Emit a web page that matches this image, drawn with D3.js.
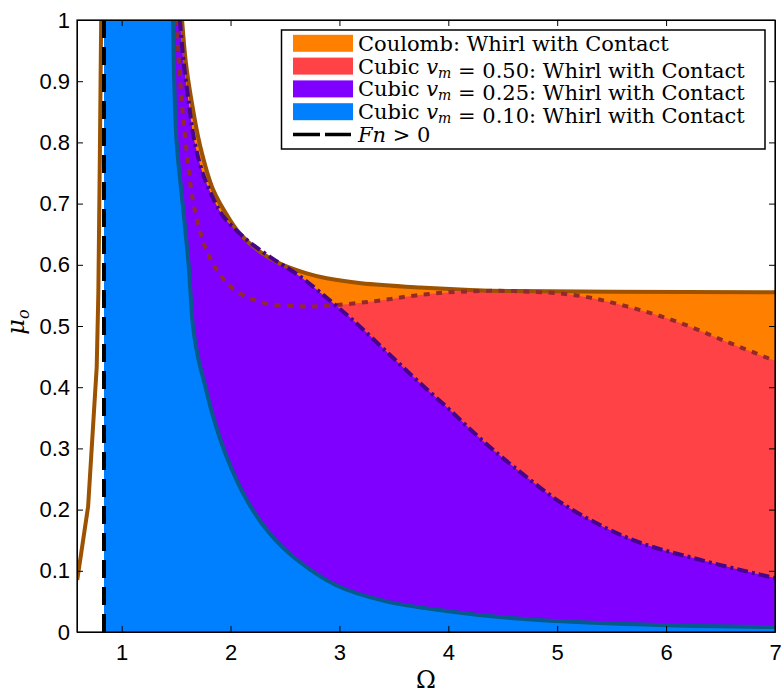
<!DOCTYPE html>
<html>
<head>
<meta charset="utf-8">
<script src="https://cdn.jsdelivr.net/npm/d3@7"></script>
<style>
  body { margin: 0; background: #fff; }
  svg { display: block; }
</style>
</head>
<body>
<div id="chart-area"></div>
<script>
// tick labels
var xTicks = [1, 2, 3, 4, 5, 6, 7];
var yTicks = [0, 0.1, 0.2, 0.3, 0.4, 0.5, 0.6, 0.7, 0.8, 0.9, 1];

// Fn > 0 limit
var fnLimit = 0.838;

// Coulomb: left boundary and upper boundary
var coulombLeftOmega = [0.592, 0.692, 0.771, 0.786, 0.800, 0.812];
var coulombLeftMu    = [0.085, 0.205, 0.433, 0.553, 0.780, 1.000];
var coulombOmega = [1.555, 1.59, 1.64, 1.72, 1.842, 2.0, 2.087, 2.25, 2.454, 2.7, 2.883, 3.2, 3.74, 4.2, 4.63, 5.5, 7.0];
var coulombMu    = [1.000, 0.93, 0.87, 0.795, 0.722, 0.672, 0.651, 0.624, 0.602, 0.586, 0.578, 0.570, 0.563, 0.559, 0.557, 0.556, 0.555];

// Cubic vm = 0.50
var cubic50Omega = [1.50, 1.53, 1.56, 1.60, 1.65, 1.72, 1.80, 1.90, 2.0, 2.12, 2.33, 2.67, 2.95, 3.34, 3.70, 4.1, 4.6, 5.18, 5.64, 6.10, 6.56, 7.0];
var cubic50Mu    = [1.00, 0.92, 0.85, 0.78, 0.71, 0.655, 0.615, 0.585, 0.565, 0.550, 0.537, 0.532, 0.534, 0.541, 0.550, 0.556, 0.557, 0.550, 0.532, 0.507, 0.474, 0.443];

// Cubic vm = 0.25
var cubic25Omega = [1.535, 1.57, 1.62, 1.66, 1.735, 1.85, 1.934, 2.148, 2.362, 2.638, 2.944, 3.189, 3.45, 3.72, 4.0, 4.3, 4.6, 5.09, 5.7, 6.31, 7.0];
var cubic25Mu    = [1.000, 0.93, 0.86, 0.81, 0.755, 0.705, 0.679, 0.641, 0.613, 0.581, 0.537, 0.499, 0.455, 0.410, 0.365, 0.315, 0.270, 0.205, 0.150, 0.118, 0.088];

// Cubic vm = 0.10
var cubic10Omega = [1.472, 1.483, 1.505, 1.56, 1.615, 1.655, 1.70, 1.77, 1.84, 1.965, 2.148, 2.36, 2.61, 2.975, 3.43, 4.0, 4.5, 5.09, 6.0, 7.0];
var cubic10Mu    = [1.00, 0.90, 0.80, 0.70, 0.60, 0.50, 0.45, 0.40, 0.352, 0.286, 0.216, 0.161, 0.118, 0.076, 0.050, 0.034, 0.024, 0.017, 0.011, 0.008];

var width = 783, height = 696;
var margin = { left: 77, right: 8, top: 20, bottom: 64 };

var svg = d3.select("#chart-area")
  .append("svg")
  .attr("width", width)
  .attr("height", height);

var x = d3.scaleLinear()
  .domain([0.59, 7])
  .range([margin.left, width - margin.right]);

var y = d3.scaleLinear()
  .domain([0, 1])
  .range([height - margin.bottom, margin.top]);

svg.append("clipPath")
  .attr("id", "plot-clip")
  .append("rect")
  .attr("x", x.range()[0])
  .attr("y", y.range()[1])
  .attr("width", x.range()[1] - x.range()[0])
  .attr("height", y.range()[0] - y.range()[1]);

var zip = (xs, ys) => xs.map((v, i) => [v, ys[i]]);

var line = d3.line()
  .x(d => x(d[0]))
  .y(d => y(d[1]));

var smooth = d3.line()
  .x(d => x(d[0]))
  .y(d => y(d[1]))
  .curve(d3.curveCatmullRom.alpha(0.5));

// region: smooth boundary, then down the right edge and back along the Fn > 0 limit
function region(xs, ys) {
  return smooth(zip(xs, ys)) +
    "L" + x(7) + "," + y(0) +
    "L" + x(fnLimit) + "," + y(0) +
    "L" + x(fnLimit) + "," + y(1) + "Z";
}

var series = [
  { name: "Coulomb", xs: coulombOmega, ys: coulombMu, fill: "#ff8000", stroke: "#9c5200", dash: null },
  { name: "Cubic50", xs: cubic50Omega, ys: cubic50Mu, fill: "#ff4245", stroke: "#932a2a", dash: "6,6.5" },
  { name: "Cubic25", xs: cubic25Omega, ys: cubic25Mu, fill: "#8000ff", stroke: "#46068c", dash: "11,4,3,4" },
  { name: "Cubic10", xs: cubic10Omega, ys: cubic10Mu, fill: "#0080ff", stroke: "#075a8c", dash: null }
];

var plot = svg.append("g").attr("clip-path", "url(#plot-clip)");

// fills first
plot.selectAll("path.fill")
  .data(series)
  .enter()
  .append("path")
  .attr("class", "fill")
  .attr("d", d => region(d.xs, d.ys))
  .attr("fill", d => d.fill)
  .attr("stroke", "none");

// Coulomb left boundary
plot.append("path")
  .attr("d", line(zip(coulombLeftOmega, coulombLeftMu)))
  .attr("fill", "none")
  .attr("stroke", "#9c5200")
  .attr("stroke-width", 4);

// boundary lines
plot.selectAll("path.edge")
  .data(series)
  .enter()
  .append("path")
  .attr("class", "edge")
  .attr("d", d => smooth(zip(d.xs, d.ys)))
  .attr("fill", "none")
  .attr("stroke", d => d.stroke)
  .attr("stroke-width", 4)
  .attr("stroke-dasharray", d => d.dash);

// Fn > 0
plot.append("path")
  .attr("d", line([[fnLimit, 0], [fnLimit, 1]]))
  .attr("stroke", "#000")
  .attr("stroke-width", 4)
  .attr("stroke-dasharray", "18,9");

// axes
var tickFont = "Liberation Sans, Arial, Helvetica, sans-serif";

svg.append("g")
  .attr("transform", "translate(0," + y(0) + ")")
  .call(d3.axisBottom(x).tickValues(xTicks).tickFormat(d3.format("")).tickSizeInner(-6).tickSizeOuter(0).tickPadding(12));

svg.append("g")
  .attr("transform", "translate(" + x.range()[0] + ",0)")
  .call(d3.axisLeft(y).tickValues(yTicks).tickFormat(d3.format("")).tickSizeInner(-6).tickSizeOuter(0).tickPadding(7));

svg.append("g")
  .attr("transform", "translate(0," + y(1) + ")")
  .call(d3.axisTop(x).tickValues(xTicks).tickFormat("").tickSizeInner(-6).tickSizeOuter(0));

svg.append("g")
  .attr("transform", "translate(" + x.range()[1] + ",0)")
  .call(d3.axisRight(y).tickValues(yTicks).tickFormat("").tickSizeInner(-6).tickSizeOuter(0));

svg.selectAll(".tick text")
  .attr("font-family", tickFont)
  .attr("font-size", 22)
  .attr("fill", "#000");
svg.selectAll(".domain, .tick line").attr("stroke", "#000");

svg.append("rect")
  .attr("x", x.range()[0])
  .attr("y", y.range()[1])
  .attr("width", x.range()[1] - x.range()[0])
  .attr("height", y.range()[0] - y.range()[1])
  .attr("fill", "none")
  .attr("stroke", "#000")
  .attr("stroke-width", 1.2);

// axis titles
var serif = "DejaVu Serif, Liberation Serif, serif";

svg.append("text")
  .attr("x", (x.range()[0] + x.range()[1]) / 2)
  .attr("y", 688)
  .attr("text-anchor", "middle")
  .attr("font-family", serif)
  .attr("font-size", 24)
  .text("Ω");

var ylab = svg.append("text")
  .attr("transform", "translate(24,322) rotate(-90)")
  .attr("text-anchor", "middle")
  .attr("font-family", serif)
  .attr("font-size", 24);
ylab.append("tspan").attr("font-style", "italic").text("μ");
ylab.append("tspan").attr("font-style", "italic").attr("font-size", 16).attr("dy", 5).text("o");

// legend
var legend = svg.append("g");
legend.append("rect")
  .attr("x", 281.5)
  .attr("y", 30)
  .attr("width", 483.5)
  .attr("height", 119)
  .attr("fill", "#fff")
  .attr("stroke", "#000")
  .attr("stroke-width", 1.5);

var legendLabels = [
  [["Coulomb: Whirl with Contact", false]],
  [["Cubic ", false], ["v", true, "m"], [" = 0.50: Whirl with Contact", false]],
  [["Cubic ", false], ["v", true, "m"], [" = 0.25: Whirl with Contact", false]],
  [["Cubic ", false], ["v", true, "m"], [" = 0.10: Whirl with Contact", false]],
  [["Fn", true], [" > 0", false]]
];

legendLabels.forEach((parts, i) => {
  var cy = 43.3 + i * 22.8;
  if (i < 4) {
    legend.append("rect")
      .attr("x", 293)
      .attr("y", cy - 8.5)
      .attr("width", 60)
      .attr("height", 17)
      .attr("fill", series[i].fill);
  } else {
    legend.append("line")
      .attr("x1", 293).attr("x2", 351)
      .attr("y1", cy).attr("y2", cy)
      .attr("stroke", "#000")
      .attr("stroke-width", 3.5)
      .attr("stroke-dasharray", "27,5");
  }
  var t = legend.append("text")
    .attr("x", 358)
    .attr("y", cy + 7.5)
    .attr("font-family", serif)
    .attr("font-size", 21);
  parts.forEach(p => {
    t.append("tspan").attr("font-style", p[1] ? "italic" : "normal").text(p[0]);
    if (p[2]) {
      t.append("tspan").attr("font-style", "italic").attr("font-size", 14).attr("dy", 4).text(p[2]);
      t.append("tspan").attr("dy", -4).text("");
    }
  });
});
</script>
</body>
</html>
